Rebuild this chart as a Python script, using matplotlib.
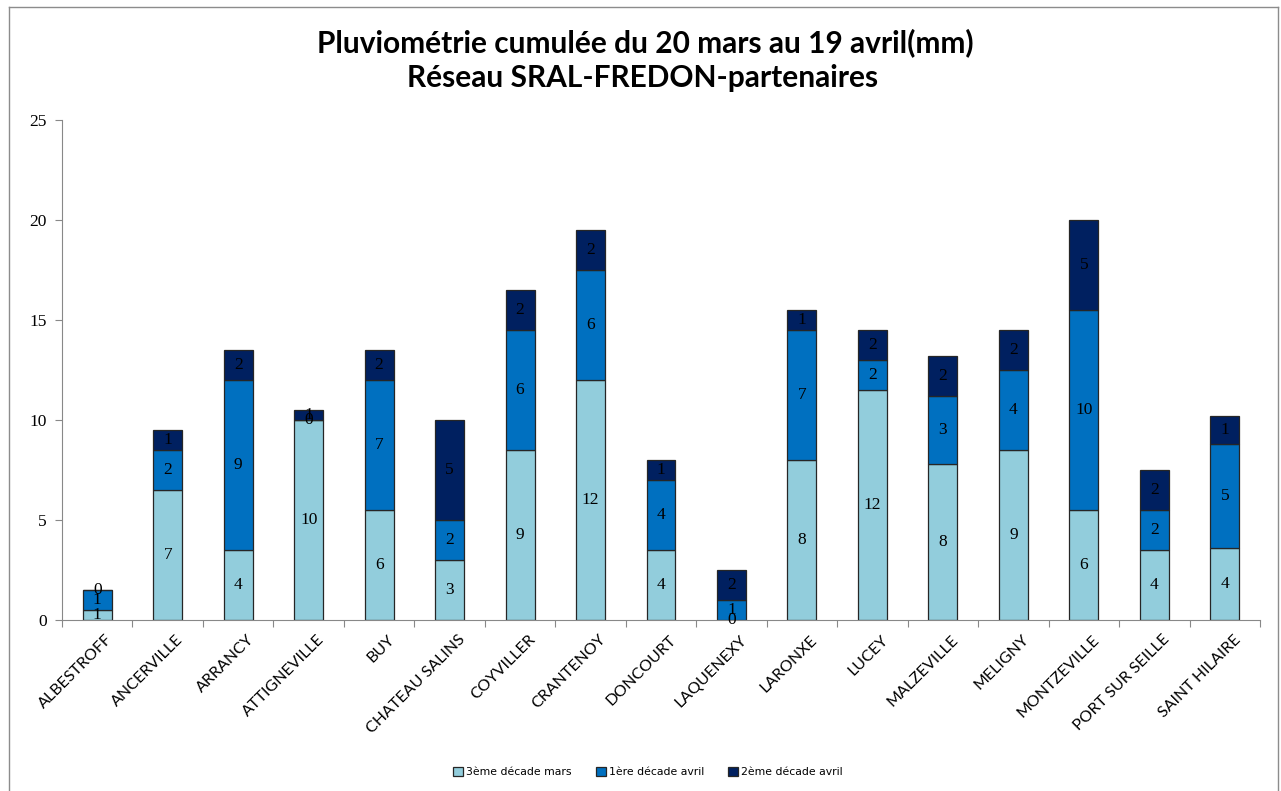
import numpy as np
import matplotlib
matplotlib.use("Agg")
import matplotlib.pyplot as plt
from matplotlib.lines import Line2D

# station names
stations = ["ALBESTROFF", "ANCERVILLE", "ARRANCY", "ATTIGNEVILLE", "BUY",
            "CHATEAU SALINS", "COYVILLER", "CRANTENOY", "DONCOURT", "LAQUENEXY",
            "LARONXE", "LUCEY", "MALZEVILLE", "MELIGNY", "MONTZEVILLE",
            "PORT SUR SEILLE", "SAINT HILAIRE"]

# rainfall per decade (mm)
mars_3 = [0.5, 6.5, 3.5, 10.0, 5.5, 3.0, 8.5, 12.0, 3.5, 0.0,
          8.0, 11.5, 7.8, 8.5, 5.5, 3.5, 3.6]
avril_1 = [1.0, 2.0, 8.5, 0.0, 6.5, 2.0, 6.0, 5.5, 3.5, 1.0,
           6.5, 1.5, 3.4, 4.0, 10.0, 2.0, 5.2]
avril_2 = [0.0, 1.0, 1.5, 0.5, 1.5, 5.0, 2.0, 2.0, 1.0, 1.5,
           1.0, 1.5, 2.0, 2.0, 4.5, 2.0, 1.4]

series_names = ["3ème décade mars", "1ère décade avril", "2ème décade avril"]
colors = ["#92CDDC", "#0070C0", "#002060"]

fig = plt.figure(figsize=(12.81, 7.91), dpi=100)
W, H = 1281, 791
ax = fig.add_axes([62 / W, 171 / H, (1260 - 62) / W, (620 - 120) / H])

x = np.arange(len(stations))
bottom = np.zeros(len(stations))
for vals, name, col in zip([mars_3, avril_1, avril_2], series_names, colors):
    vals = np.array(vals)
    ax.bar(x, vals, width=0.41, bottom=bottom, color=col, edgecolor="#262626",
           linewidth=0.9, label=name)
    for xi, b, v in zip(x, bottom, vals):
        lab = int(np.floor(v + 0.5))  # excel style rounding
        ax.text(xi, b + v / 2, str(lab), ha="center", va="center",
                fontsize=12.5, family="Liberation Serif", color="black")
    bottom += vals

ax.set_xlim(-0.5, len(stations) - 0.5)
ax.set_ylim(0, 25)
ax.set_yticks([0, 5, 10, 15, 20, 25])
ax.set_yticklabels(["0", "5", "10", "15", "20", "25"], family="Liberation Serif", fontsize=12.5)
ax.set_xticks(np.arange(-0.5, len(stations), 1.0), minor=False)
ax.set_xticklabels([])
ax.set_xticks(x + 0.12, minor=True)
ax.set_xticklabels(stations, minor=True, rotation=45, ha="right", rotation_mode="anchor",
                   family="Lato", fontsize=11.5)
ax.tick_params(axis="x", which="minor", length=0, pad=9)
ax.tick_params(axis="x", which="major", length=5, color="#888888", direction="out")
ax.tick_params(axis="y", length=5, color="#888888", direction="out", pad=6)
for s in ["top", "right"]:
    ax.spines[s].set_visible(False)
for s in ["left", "bottom"]:
    ax.spines[s].set_color("#888888")

fig.text(645 / W, 1 - 43 / H, "Pluviométrie cumulée du 20 mars au 19 avril(mm)",
         ha="center", va="center", fontsize=21.5, fontweight="bold", family="Lato")
fig.text(643 / W, 1 - 78 / H, "Réseau SRAL-FREDON-partenaires",
         ha="center", va="center", fontsize=21.5, fontweight="bold", family="Lato")

ax.legend(loc="center", bbox_to_anchor=(648 / W, 1 - 772 / H), bbox_transform=fig.transFigure,
          ncol=3, frameon=False, prop={"family": "DejaVu Sans", "size": 7.8},
          handlelength=0.9, handleheight=0.9, columnspacing=2.2, handletextpad=0.3)

# outer frame
frame_col = "#8c8c8c"
fig.add_artist(Line2D([9 / W, 9 / W], [0, 1 - 7 / H], transform=fig.transFigure, color=frame_col, lw=1))
fig.add_artist(Line2D([9 / W, 1278 / W], [1 - 7 / H, 1 - 7 / H], transform=fig.transFigure, color=frame_col, lw=1))
fig.add_artist(Line2D([1278 / W, 1278 / W], [0, 1 - 7 / H], transform=fig.transFigure, color=frame_col, lw=1))

fig.savefig("out.png", dpi=100)
